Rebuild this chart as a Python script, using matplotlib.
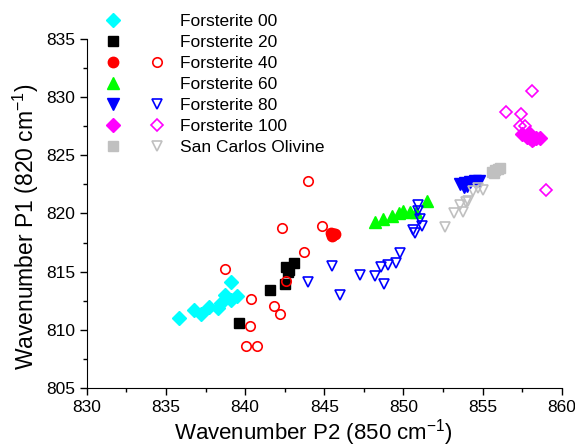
import matplotlib
matplotlib.use('Agg')
import matplotlib.pyplot as plt
from matplotlib.lines import Line2D
from matplotlib.legend_handler import HandlerTuple
from matplotlib.ticker import MultipleLocator

plt.rcParams['font.family'] = ['Liberation Sans', 'DejaVu Sans']
plt.rcParams['mathtext.default'] = 'regular'

# Forsterite 00 (filled diamonds)
fo00_p2 = [835.8, 836.8, 837.2, 837.7, 838.3, 838.5, 838.7, 839.1, 839.5, 839.1]
fo00_p1 = [811.0, 811.7, 811.4, 812.0, 811.85, 812.3, 813.0, 812.6, 812.9, 814.1]

# Forsterite 20 (filled squares)
fo20_p2 = [839.6, 841.6, 842.5, 842.6, 842.8, 843.1, 842.7]
fo20_p1 = [810.6, 813.4, 813.9, 815.4, 815.15, 815.7, 815.0]

# Forsterite 40
fo40_p2 = [845.4, 845.5, 845.6, 845.7]
fo40_p1 = [818.3, 818.1, 818.2, 818.2]
fo40o_p2 = [843.95, 842.3, 844.85, 843.7, 838.7, 842.6, 840.4, 841.85, 842.2, 840.3, 840.05, 840.75]
fo40o_p1 = [822.75, 818.75, 818.95, 816.65, 815.25, 814.2, 812.65, 812.05, 811.35, 810.35, 808.6, 808.6]

# Forsterite 60 (filled triangles)
fo60_p2 = [848.2, 848.7, 849.3, 849.7, 850.0, 850.4, 850.8, 851.5]
fo60_p1 = [819.3, 819.5, 819.8, 820.0, 820.2, 820.1, 820.1, 821.1]

# Forsterite 80
fo80_p2 = [853.6, 853.8, 853.9, 854.0, 854.2, 854.5, 854.8]
fo80_p1 = [822.5, 822.3, 822.6, 822.4, 822.7, 822.8, 822.8]
fo80o_p2 = [843.95, 845.5, 846.0, 847.25, 848.2, 848.8, 848.6, 849.05, 849.5, 849.8,
            850.6, 850.7, 851.2, 851.05, 850.95, 850.9]
fo80o_p1 = [814.15, 815.5, 813.0, 814.7, 814.6, 813.9, 815.4, 815.6, 815.7, 816.6,
            818.6, 818.3, 818.9, 819.5, 820.2, 820.7]

# Forsterite 100
fo100_p2 = [857.5, 857.8, 858.0, 858.2, 858.4, 858.6, 858.1, 857.9]
fo100_p1 = [826.8, 826.6, 826.5, 826.4, 826.5, 826.5, 826.3, 826.9]
fo100o_p2 = [858.15, 856.45, 857.45, 857.35, 857.65, 859.0]
fo100o_p1 = [830.5, 828.75, 828.55, 827.55, 827.5, 822.0]

# San Carlos olivine
sc_p2 = [855.6, 855.8, 856.0, 856.1, 855.7]
sc_p1 = [823.6, 823.7, 823.8, 823.9, 823.5]
sco_p2 = [852.6, 853.2, 853.75, 853.6, 853.95, 854.1, 854.4, 855.0, 854.7]
sco_p1 = [818.8, 820.05, 820.15, 820.75, 821.0, 821.1, 821.9, 822.05, 822.2]

labels = ['Forsterite 00', 'Forsterite 20', 'Forsterite 40', 'Forsterite 60',
          'Forsterite 80', 'Forsterite 100', 'San Carlos Olivine']

grey = '#c0c0c0'

fig = plt.figure(figsize=(5.75, 4.47), dpi=100)
ax = fig.add_axes([0.151, 0.132, 0.826, 0.781])

h00, = ax.plot(fo00_p2, fo00_p1, 'D', color='#00ffff', ms=7.5, ls='none')
h20, = ax.plot(fo20_p2, fo20_p1, 's', color='black', ms=6.5, ls='none')
h40, = ax.plot(fo40_p2, fo40_p1, 'o', color='red', ms=7.5, ls='none')
h40o, = ax.plot(fo40o_p2, fo40o_p1, 'o', mfc='none', mec='red', ms=6.8, mew=1.2, ls='none')
h60, = ax.plot(fo60_p2, fo60_p1, '^', color='#00ff00', ms=8, ls='none')
h80, = ax.plot(fo80_p2, fo80_p1, 'v', color='blue', ms=8, ls='none')
h80o, = ax.plot(fo80o_p2, fo80o_p1, 'v', mfc='none', mec='blue', ms=7.5, mew=1.2, ls='none')
h100, = ax.plot(fo100_p2, fo100_p1, 'D', color='magenta', ms=7.5, ls='none')
h100o, = ax.plot(fo100o_p2, fo100o_p1, 'D', mfc='none', mec='magenta', ms=6.5, mew=1.2, ls='none')
hsc, = ax.plot(sc_p2, sc_p1, 's', color=grey, ms=6.5, ls='none')
hsco, = ax.plot(sco_p2, sco_p1, 'v', mfc='none', mec=grey, ms=7.5, mew=1.2, ls='none')

blank = Line2D([], [], ls='none', marker='none')
handles = [(h00, blank), (h20, blank), (h40, h40o), (h60, blank),
           (h80, h80o), (h100, h100o), (hsc, hsco)]
ax.legend(handles, labels, handler_map={tuple: HandlerTuple(ndivide=2, pad=0)},
          loc='upper left', bbox_to_anchor=(91 / 575, 1 - 14 / 447),
          bbox_transform=fig.transFigure, frameon=False, fontsize=12.5,
          handlelength=5.05, handletextpad=0.05, borderpad=0, borderaxespad=0,
          labelspacing=0.34)

ax.set_xlim(830, 860)
ax.set_ylim(805, 835)
ax.xaxis.set_major_locator(MultipleLocator(5))
ax.xaxis.set_minor_locator(MultipleLocator(2.5))
ax.yaxis.set_major_locator(MultipleLocator(5))
ax.yaxis.set_minor_locator(MultipleLocator(2.5))
ax.tick_params(which='both', direction='out', labelsize=12.5, width=1)
ax.tick_params(which='major', length=5)
ax.tick_params(which='minor', length=3)
for side in ['top', 'right']:
    ax.spines[side].set_visible(False)

ax.set_xlabel('Wavenumber P2 (850 cm$^{-1}$)', fontsize=16)
ax.set_ylabel('Wavenumber P1 (820 cm$^{-1}$)', fontsize=16.5)
ax.xaxis.set_label_coords(0.478, -0.083)
ax.yaxis.set_label_coords(-0.097, 0.461)

fig.savefig('out.png', dpi=100)
